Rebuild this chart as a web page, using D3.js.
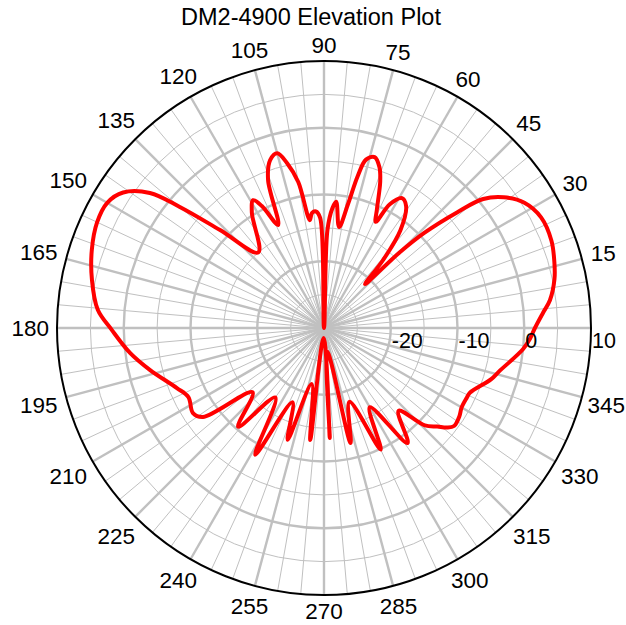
<!DOCTYPE html>
<html>
<head>
<meta charset="utf-8">
<script src="https://cdn.jsdelivr.net/npm/d3@7"></script>
<style>
body { margin: 0; background: #fff; }
text { font-family: "Liberation Sans", Arial, sans-serif; fill: #000; }
</style>
</head>
<body>
<div id="chart"></div>
<script>
var width = 626
var height = 625
var cx = 324, cy = 328, outerR = 267

var title = 'DM2-4900 Elevation Plot'
var angleLabels = [15, 30, 45, 60, 75, 90, 105, 120, 135, 150, 165, 180, 195, 210, 225, 240, 255, 270, 285, 300, 315, 330, 345]
var ringValues = [-25, -20, -15, -10, -5, 0, 5]
var radialLabels = [-20, -10, 0, 10]

// measured pattern, degrees (ccw from 0) and gain in dB
var angles = [0, 4, 7, 12, 16, 21, 27, 32, 36, 39, 41, 43.5, 45, 47, 49, 52, 56, 59, 62, 64, 66, 69, 71, 73.5, 76, 77.5, 79, 81.5, 84.5, 86, 88, 90,
  92, 94, 96, 97.5, 100, 102.6, 105, 107.8, 110.7, 114, 117, 119, 122, 131, 136.7, 140, 142.2, 146, 150, 155, 161.4, 168.3, 175.4, 180.5,
  187.3, 193.6, 202.2, 207, 213, 216.3, 222, 229, 235, 241.5, 247, 252, 257.5, 263, 268, 273, 278, 283, 289, 295, 300, 306, 312,
  316, 319, 321, 323, 327, 330, 334, 336, 343, 346, 354, 357]
var gains = [1.6, 2.9, 4.1, 5.3, 5.9, 6.5, 6.5, 5.4, 3.3, 0.7, -3.6, -9.3, -14, -21, -16.5, -11.4, -8.0, -7.3, -9.0, -12.3, -10.5, -6.5, -4.5, -3.3, -4.0, -6.7, -11, -14.7, -11.0, -12, -15.3, -30,
  -13.5, -12.5, -12.7, -13.7, -7.8, -4.7, -2.9, -3.6, -6.3, -13.1, -9.5, -8.1, -9.6, -15.0, -8.6, -1.8, 3.0, 6.3, 7.5, 7.5, 6.7, 5.5, 4.0, 1.8,
  -0.7, -3.2, -6.2, -7.2, -6.6, -7.5, -15.6, -10.4, -17.3, -8.4, -17.9, -12.4, -21.4, -13.1, -28.5, -13.5, -26.4, -12.3, -18.3, -9.9, -16.3, -8.7, -13.3,
  -9.0, -7.5, -6.3, -5.6, -5.8, -6.2, -6.2, -6.1, -3.8, -3.0, 0.0, 0.9]

var svg = d3.select('#chart').append('svg')
  .attr('width', width)
  .attr('height', height)

var r = d3.scaleLinear().domain([-30, 10]).range([0, outerR])
// lineRadial wants clockwise-from-top, the chart counts ccw from the right
var ang = d3.scaleLinear().domain([0, 360]).range([Math.PI / 2, Math.PI / 2 - 2 * Math.PI])

var g = svg.append('g').attr('transform', 'translate(' + cx + ',' + cy + ')')

// spokes every 5 degrees, heavier every 15
var spokes = d3.range(0, 360, 5)
g.selectAll('.spoke').data(spokes).enter().append('line')
  .attr('class', 'spoke')
  .attr('x1', 0).attr('y1', 0)
  .attr('x2', function(d) { return outerR * Math.cos(d * Math.PI / 180) })
  .attr('y2', function(d) { return -outerR * Math.sin(d * Math.PI / 180) })
  .attr('stroke', '#c0c0c0')
  .attr('stroke-width', function(d) { return d % 15 == 0 ? 2.4 : 1 })

g.selectAll('.ring').data(ringValues).enter().append('circle')
  .attr('class', 'ring')
  .attr('r', function(d) { return r(d) })
  .attr('fill', 'none')
  .attr('stroke', '#c0c0c0')
  .attr('stroke-width', function(d) { return d % 10 == 0 ? 2.4 : 1 })

g.append('circle')
  .attr('r', r(10))
  .attr('fill', 'none')
  .attr('stroke', '#000')
  .attr('stroke-width', 2)

var pts = angles.map(function(a, i) { return [a, gains[i]] })
var line = d3.lineRadial()
  .angle(function(d) { return ang(d[0]) })
  .radius(function(d) { return r(d[1]) })
  .curve(d3.curveCatmullRomClosed.alpha(0.5))

g.append('path')
  .datum(pts)
  .attr('d', line)
  .attr('fill', 'none')
  .attr('stroke', '#ff0000')
  .attr('stroke-width', 4)
  .attr('stroke-linejoin', 'round')

// angle labels, kept a fixed gap away from the rim
var labelSize = 22.5
g.selectAll('.alab').data(angleLabels).enter().append('text')
  .attr('class', 'alab')
  .attr('font-size', labelSize)
  .attr('text-anchor', 'middle')
  .attr('dy', '0.36em')
  .text(function(d) { return d })
  .each(function(d) {
    var w = this.getComputedTextLength()
    var c = Math.cos(d * Math.PI / 180), s = Math.sin(d * Math.PI / 180)
    var rr = outerR + 8 + Math.abs(c) * w / 2 + Math.abs(s) * 8
    var x = rr * c
    // keep inside the page
    x = Math.min(x, width - cx - w / 2 - 1)
    x = Math.max(x, -cx + w / 2 + 1)
    d3.select(this)
      .attr('x', x)
      .attr('y', -rr * s)
  })

g.selectAll('.rlab').data(radialLabels).enter().append('text')
  .attr('class', 'rlab')
  .attr('font-size', 21.5)
  .attr('x', function(d) { return r(d) + 1 })
  .attr('y', 20)
  .text(function(d) { return d })

svg.append('text')
  .attr('x', 311)
  .attr('y', 25)
  .attr('text-anchor', 'middle')
  .attr('font-size', 23.5)
  .text(title)
</script>
</body>
</html>
